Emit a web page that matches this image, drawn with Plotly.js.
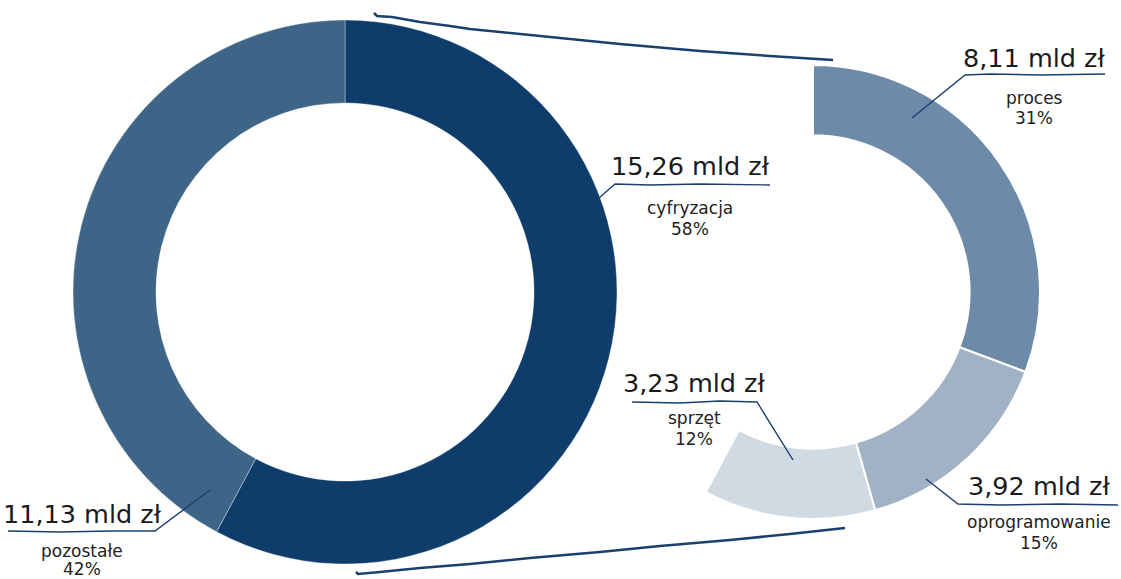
<!DOCTYPE html>
<html>
<head>
<meta charset="utf-8">
<script src="https://cdn.plot.ly/plotly-3.0.1.min.js"></script>
<style>html,body{margin:0;padding:0;background:#fff;}#chart{width:1121px;height:579px;}</style>
</head>
<body>
<div id="chart"></div>
<script>
// Data
const mainLabels = ["cyfryzacja", "pozostałe"];
const mainValues = [15.26, 11.13];
const mainShares = ["58%", "42%"];
const subLabels = ["proces", "oprogramowanie", "sprzęt"];
const subValues = [8.11, 3.92, 3.23];
const subShares = ["31%", "15%", "12%"];

const mainColors = ["#0e3d6b", "#3e6587"];
const subColors = ["#6d8ba8", "#a0b2c4", "#cfdae3"];
const FONT = "DejaVu Sans, sans-serif";
const lineCol = "#1d3f6c";

const fmt = v => v.toFixed(2).replace(".", ",") + " mld zł";

const traces = [
  {
    type: "pie", values: mainValues, labels: mainLabels, sort: false,
    direction: "clockwise", rotation: 0, hole: 0.695,
    marker: {colors: mainColors, line: {color: "rgba(255,255,255,0.35)", width: 1}},
    textinfo: "none", hoverinfo: "skip", showlegend: false,
    domain: {x: [73/1121, 617/1121], y: [15/579, 559/579]}
  },
  {
    type: "pie",
    values: subValues.concat([mainValues[1]]),
    labels: subLabels.concat(["_rest"]), sort: false,
    direction: "clockwise", rotation: 0, hole: 0.69,
    marker: {
      colors: subColors.concat(["rgba(0,0,0,0)"]),
      line: {color: ["#ffffff", "#ffffff", "#ffffff", "rgba(0,0,0,0)"], width: [2, 2, 2, 0]}
    },
    textinfo: "none", hoverinfo: "skip", showlegend: false,
    domain: {x: [586/1121, 1040/1121], y: [60/579, 514/579]}
  }
];

// label layout (pixel positions of label blocks)
const labelPos = [
  {v: mainValues[0], n: mainLabels[0], s: mainShares[0], x: 690, yv: 166, yn: 208, ys: 229},
  {v: mainValues[1], n: mainLabels[1], s: mainShares[1], x: 82, yv: 514, yn: 551, ys: 569},
  {v: subValues[0], n: subLabels[0], s: subShares[0], x: 1034, yv: 58, yn: 98, ys: 118},
  {v: subValues[1], n: subLabels[1], s: subShares[1], x: 1039, yv: 486, yn: 522, ys: 543},
  {v: subValues[2], n: subLabels[2], s: subShares[2], x: 694, yv: 383, yn: 418, ys: 439}
];

const annotations = [];
labelPos.forEach(p => {
  annotations.push({x: p.x, y: p.yv, xref: "x", yref: "y", text: fmt(p.v), showarrow: false,
    font: {family: FONT, size: 25.5, color: "#1a1a1a"}, xanchor: "center", yanchor: "middle", borderpad: 0});
  annotations.push({x: p.x, y: p.yn, xref: "x", yref: "y", text: p.n, showarrow: false,
    font: {family: FONT, size: 17, color: "#222"}, xanchor: "center", yanchor: "middle", borderpad: 0});
  annotations.push({x: p.x, y: p.ys, xref: "x", yref: "y", text: p.s, showarrow: false,
    font: {family: FONT, size: 17, color: "#222"}, xanchor: "center", yanchor: "middle", borderpad: 0});
});

function path(d, w) {
  return {type: "path", xref: "x", yref: "y", path: d, line: {color: lineCol, width: w}, layer: "above"};
}
const shapes = [
  // connecting strokes between donuts
  path("M374,13 L377,16 L392,17 L420,22 L450,26 L470,29 L500,32 L560,38 L620,44 L700,51 L770,56 L833,60", 2.6),
  path("M356,572 L358,574 L380,572 L420,568 L470,564 L530,558 L600,552 L660,546 L730,540 L790,534 L845,528", 2.6),
  // underlines + connectors
  path("M770,185 L700,184 L650,185 L615,184 L599,198", 1.4),
  path("M1105,74 L1040,75 L990,74 L965,75 L912,118", 1.4),
  path("M632,402 L680,403 L720,401 L757,402 L793,460", 1.4),
  path("M1118,505 L1060,504 L1000,505 L958,504 L926,479", 1.4),
  path("M8,531 L60,532 L110,531 L155,531 L210,490", 1.4)
];

const layout = {
  width: 1121, height: 579,
  margin: {l: 0, r: 0, t: 0, b: 0, pad: 0},
  paper_bgcolor: "#ffffff", plot_bgcolor: "rgba(0,0,0,0)",
  showlegend: false,
  xaxis: {range: [0, 1121], visible: false, fixedrange: true},
  yaxis: {range: [579, 0], visible: false, fixedrange: true},
  annotations: annotations,
  shapes: shapes
};

Plotly.newPlot("chart", traces, layout, {displayModeBar: false, staticPlot: true});
</script>
</body>
</html>
